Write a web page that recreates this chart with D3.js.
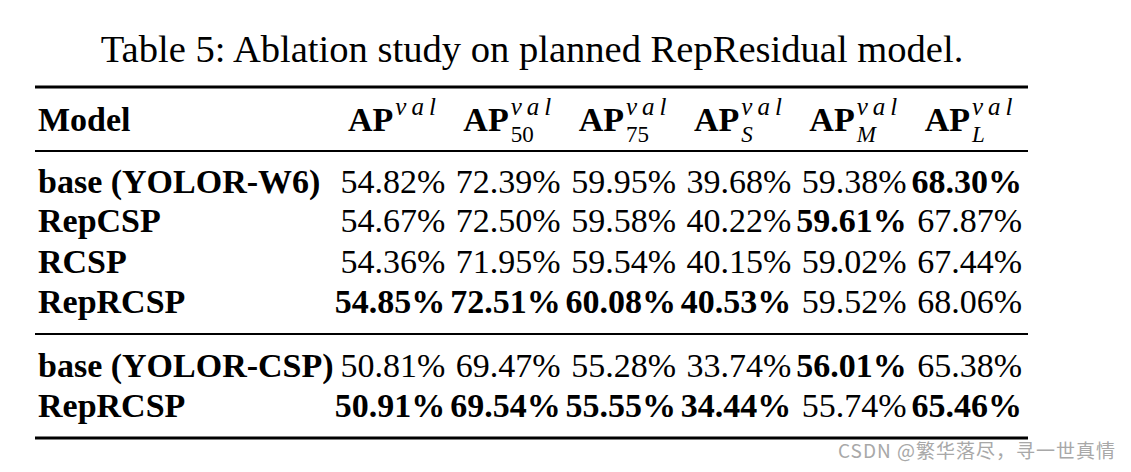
<!DOCTYPE html>
<html><head><meta charset="utf-8">
<script src="https://cdn.jsdelivr.net/npm/d3@7"></script>
<style>body{margin:0;background:#fff;} svg{display:block;}</style>
</head><body>
<svg id="chart" width="1131" height="472"></svg>
<script>
const title = "Table 5: Ablation study on planned RepResidual model.";
const columns = ["AP", "AP50", "AP75", "APS", "APM", "APL"];
const colSub = ["", "50", "75", "S", "M", "L"];
const colSubItalic = [false, false, false, true, true, true];
const models = ["base (YOLOR-W6)", "RepCSP", "RCSP", "RepRCSP", "base (YOLOR-CSP)", "RepRCSP"];
const values = [
  [54.82, 72.39, 59.95, 39.68, 59.38, 68.30],
  [54.67, 72.50, 59.58, 40.22, 59.61, 67.87],
  [54.36, 71.95, 59.54, 40.15, 59.02, 67.44],
  [54.85, 72.51, 60.08, 40.53, 59.52, 68.06],
  [50.81, 69.47, 55.28, 33.74, 56.01, 65.38],
  [50.91, 69.54, 55.55, 34.44, 55.74, 65.46]
];
const bold = [
  [0,0,0,0,0,1],
  [0,0,0,0,1,0],
  [0,0,0,0,0,0],
  [1,1,1,1,0,0],
  [0,0,0,0,1,0],
  [1,1,1,1,0,1]
];
const watermark = "CSDN @繁华落尽，寻一世真情";

const svg = d3.select("#chart");
const serif = "Liberation Serif";
const fs = 34;

// Title
const t = svg.append("text").attr("x", 532).attr("y", 62).attr("text-anchor", "middle")
  .attr("font-family", serif).attr("font-size", 35).text(title);
const tw = t.node().getComputedTextLength();
t.attr("font-size", 35 * 863 / tw);

// Column scale
const x = d3.scaleBand().domain(d3.range(columns.length)).range([335, 1027]);
const rowY = [193, 232, 273, 313, 377, 417];
const y = d3.scaleOrdinal().domain(d3.range(models.length)).range(rowY);

// Rules
const rules = [{y: 87, w: 3}, {y: 151, w: 2}, {y: 334, w: 2}, {y: 438, w: 3}];
svg.selectAll("line.rule").data(rules).enter().append("line").attr("class", "rule")
  .attr("x1", 35).attr("x2", 1028).attr("y1", d => d.y).attr("y2", d => d.y)
  .attr("stroke", "#000").attr("stroke-width", d => d.w);

// Header
svg.append("text").attr("x", 38).attr("y", 131).attr("font-family", serif)
  .attr("font-size", fs).attr("font-weight", "bold").text("Model");

// measure "AP"
const meas = svg.append("text").attr("font-family", serif).attr("font-size", fs)
  .attr("font-weight", "bold").text("AP");
const apw = meas.node().getComputedTextLength();
meas.remove();
const supW = 46;

columns.forEach((c, i) => {
  const total = apw + 2 + supW;
  const cx = x(i) + x.bandwidth() / 2 + 2;
  const x0 = cx - total / 2;
  const txt = svg.append("text").attr("class", "header").attr("font-family", serif);
  txt.append("tspan").attr("x", x0).attr("y", 131).attr("font-size", fs)
    .attr("font-weight", "bold").text("AP");
  txt.append("tspan").attr("x", x0 + apw + 2).attr("y", 115).attr("font-size", 25)
    .attr("font-style", "italic").attr("letter-spacing", 5).text("val");
  if (colSub[i]) {
    txt.append("tspan").attr("x", x0 + apw + 2).attr("y", 142).attr("font-size", 23)
      .attr("font-style", colSubItalic[i] ? "italic" : "normal").text(colSub[i]);
  }
});

// Row labels
svg.selectAll("text.model").data(models).enter().append("text").attr("class", "model")
  .attr("x", 38).attr("y", (d, r) => y(r)).attr("font-family", serif)
  .attr("font-size", fs).attr("font-weight", "bold").text(d => d);

// Cells
const cells = [];
values.forEach((row, r) => row.forEach((v, c) => cells.push({r, c, v, b: bold[r][c]})));
svg.selectAll("text.cell").data(cells).enter().append("text").attr("class", "cell")
  .attr("x", d => x(d.c) + x.bandwidth() - 5)
  .attr("y", d => y(d.r))
  .attr("text-anchor", "end")
  .attr("font-family", serif).attr("font-size", fs)
  .attr("font-weight", d => d.b ? "bold" : "normal")
  .text(d => d.v.toFixed(2) + "%");

// Watermark
svg.append("text").attr("x", 838).attr("y", 458)
  .attr("font-family", "Noto Sans CJK SC").attr("font-size", 19)
  .attr("textLength", 277).attr("lengthAdjust", "spacing")
  .attr("fill", "#a8a8a8").text(watermark);
</script>
</body></html>
